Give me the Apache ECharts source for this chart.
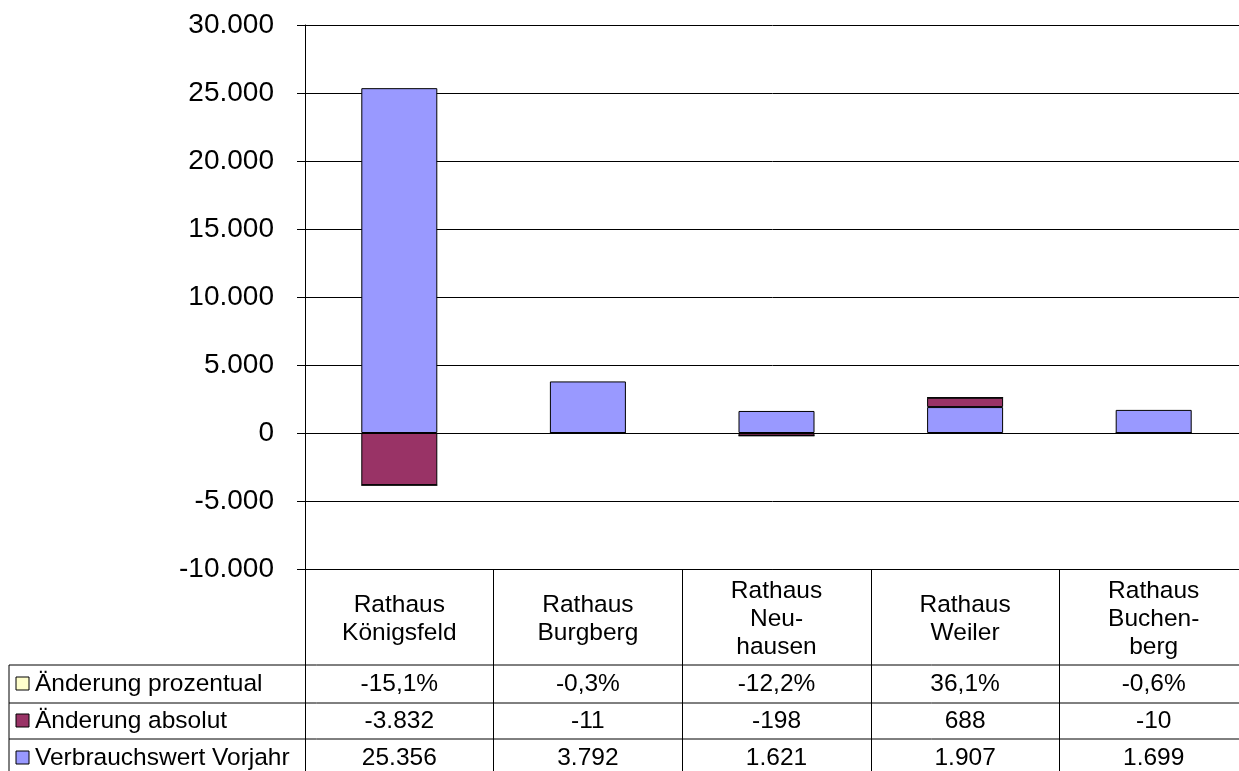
<!DOCTYPE html>
<html><head><meta charset="utf-8">
<script src="https://cdn.jsdelivr.net/npm/echarts@6/dist/echarts.min.js"></script>
<style>html,body{margin:0;padding:0;background:#fff}#c{width:1239px;height:771px}</style>
</head><body><div id="c"></div>
<script>
// ---- data ----
const categories = ['Rathaus\nKönigsfeld', 'Rathaus\nBurgberg', 'Rathaus\nNeu-\nhausen', 'Rathaus\nWeiler', 'Rathaus\nBuchen-\nberg'];
const nameProzent = 'Änderung prozentual';
const nameAbsolut = 'Änderung absolut';
const nameVorjahr = 'Verbrauchswert Vorjahr';
const aenderungProzent = [-0.151, -0.003, -0.122, 0.361, -0.006];
const aenderungAbsolut = [-3832, -11, -198, 688, -10];
const verbrauchVorjahr = [25356, 3792, 1621, 1907, 1699];
const yMin = -10000, yMax = 30000, yInterval = 5000;
const colorProzent = '#FFFFCC', colorAbsolut = '#993366', colorVorjahr = '#9999FF';

function fmtNum(v) {
  const s = String(Math.abs(v)).replace(/\B(?=(\d{3})+(?!\d))/g, '.');
  return (v < 0 ? '-' : '') + s;
}
function fmtPct(v) {
  return (v * 100).toFixed(1).replace('.', ',') + '%';
}

const FONT = '"Liberation Sans", Arial, sans-serif';
const TFS = 24.5;
const chart = echarts.init(document.getElementById('c'), null, {renderer: 'canvas'});
const barStyle = c => ({color: c, borderColor: '#000', borderWidth: 1});

chart.setOption({
  animation: false,
  backgroundColor: '#fff',
  grid: {left: 305, top: 25, width: 943, height: 544, containLabel: false, outerBoundsMode: 'none'},
  xAxis: {
    type: 'category',
    data: categories,
    axisLine: {show: true, onZero: false, lineStyle: {color: '#000', width: 1}},
    axisTick: {show: true, interval: 0, length: 202, lineStyle: {color: '#000', width: 1}},
    axisLabel: {interval: 0, margin: 50, verticalAlign: 'middle', lineHeight: 28,
      fontSize: TFS, fontFamily: FONT, color: '#000'},
    splitLine: {show: false}
  },
  yAxis: {
    type: 'value', min: yMin, max: yMax, interval: yInterval,
    axisLine: {show: true, lineStyle: {color: '#000', width: 1}},
    axisTick: {show: true, length: 8, lineStyle: {color: '#000', width: 1}},
    axisLabel: {margin: 31, fontSize: 28, fontFamily: FONT, color: '#000', formatter: v => fmtNum(v)},
    splitLine: {show: true, lineStyle: {color: '#000', width: 1}}
  },
  series: [
    {name: nameVorjahr, type: 'bar', stack: 's', barWidth: 76, data: verbrauchVorjahr, itemStyle: barStyle(colorVorjahr)},
    {name: nameAbsolut, type: 'bar', stack: 's', barWidth: 76, data: aenderungAbsolut, itemStyle: barStyle(colorAbsolut)},
    {name: nameProzent, type: 'bar', stack: 's', barWidth: 76, data: aenderungProzent, itemStyle: barStyle(colorProzent)}
  ]
});

// ---- data table below the axis ----
const rows = [
  {name: nameProzent, color: colorProzent, values: aenderungProzent.map(fmtPct)},
  {name: nameAbsolut, color: colorAbsolut, values: aenderungAbsolut.map(fmtNum)},
  {name: nameVorjahr, color: colorVorjahr, values: verbrauchVorjahr.map(fmtNum)}
];
const rowTop = [665, 703, 739];
const rowCenter = [684, 721, 758];
const gfx = [];
const lineStyle = {stroke: '#000', lineWidth: 1};
rowTop.forEach(y => gfx.push({type: 'line', shape: {x1: 9, y1: y, x2: 1239, y2: y}, style: lineStyle, silent: true}));
gfx.push({type: 'line', shape: {x1: 9, y1: 665, x2: 9, y2: 771}, style: lineStyle, silent: true});
rows.forEach((r, ri) => {
  const cy = rowCenter[ri];
  gfx.push({type: 'rect', shape: {x: 16, y: cy - 7, width: 13, height: 13},
    style: {fill: r.color, stroke: '#000', lineWidth: 1}, silent: true});
  gfx.push({type: 'text', x: 35, y: cy, style: {text: r.name, fill: '#000', font: TFS + 'px ' + FONT,
    textAlign: 'left', textVerticalAlign: 'middle'}, silent: true});
  r.values.forEach((v, ci) => {
    const cx = chart.convertToPixel({xAxisIndex: 0}, ci);
    gfx.push({type: 'text', x: cx, y: cy, style: {text: v, fill: '#000', font: TFS + 'px ' + FONT,
      textAlign: 'center', textVerticalAlign: 'middle'}, silent: true});
  });
});
chart.setOption({graphic: {elements: gfx}});
</script>
</body></html>
